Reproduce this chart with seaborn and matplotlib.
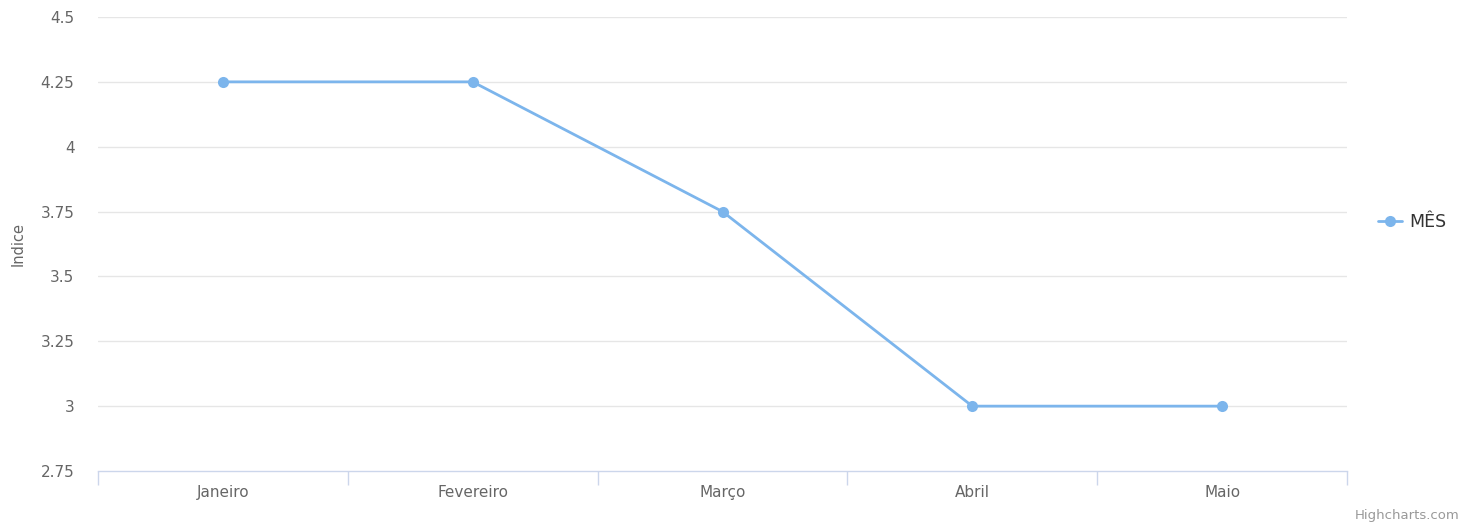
import pandas as pd
import matplotlib.pyplot as plt
import seaborn as sns

meses = ['Janeiro', 'Fevereiro', 'Março', 'Abril', 'Maio']
indice = [4.25, 4.25, 3.75, 3.0, 3.0]
y_ticks = [2.75, 3, 3.25, 3.5, 3.75, 4, 4.25, 4.5]

df = pd.DataFrame({'Mes': meses, 'Indice': indice})

sns.set_style('white')
plt.rcParams['font.family'] = ['DejaVu Sans']

fig = plt.figure(figsize=(14.73, 5.29), dpi=100)
ax = fig.add_axes([98 / 1473, 58 / 529, 1249 / 1473, 454 / 529])

sns.lineplot(data=df, x='Mes', y='Indice', ax=ax, color='#7cb5ec', linewidth=2,
             marker='o', markersize=8, markeredgewidth=0, label='MÊS', zorder=3)

ax.set_xlim(-0.5, len(meses) - 0.5)
ax.set_ylim(2.75, 4.5)
ax.set_yticks(y_ticks)
ax.set_yticklabels(['{:g}'.format(v) for v in y_ticks])
for v in y_ticks[1:]:
    ax.axhline(v, color='#e6e6e6', linewidth=1, zorder=1)

# category labels centred, tick marks on band boundaries
ax.set_xticks(range(len(meses)))
ax.set_xticklabels(meses)
ax.set_xticks([i - 0.5 for i in range(len(meses) + 1)], minor=True)
ax.tick_params(axis='x', which='major', bottom=False, length=0, pad=10, labelsize=11, labelcolor='#666666')
ax.tick_params(axis='x', which='minor', bottom=True, length=10, width=1, color='#ccd6eb', direction='out')
ax.tick_params(axis='y', left=False, length=0, pad=17, labelsize=11, labelcolor='#666666')

for s in ['top', 'right', 'left']:
    ax.spines[s].set_visible(False)
ax.spines['bottom'].set_color('#ccd6eb')
ax.spines['bottom'].set_linewidth(1)

ax.set_xlabel('')
ax.set_ylabel('Indice', fontsize=10.5, color='#666666')
ax.yaxis.set_label_coords(-0.058, 0.5)

ax.legend_.remove()
handles, labels = ax.get_legend_handles_labels()
fig.legend(handles, labels, loc='center left', bbox_to_anchor=(1362 / 1473, 1 - 222 / 529),
           frameon=False, fontsize=12.5, handlelength=1.4, handletextpad=0.4,
           labelcolor='#333333')

fig.text(1459 / 1473, 1 - 516 / 529, 'Highcharts.com', ha='right', va='center',
         fontsize=9.5, color='#999999')

plt.savefig('out.png', dpi=100)
plt.close()
